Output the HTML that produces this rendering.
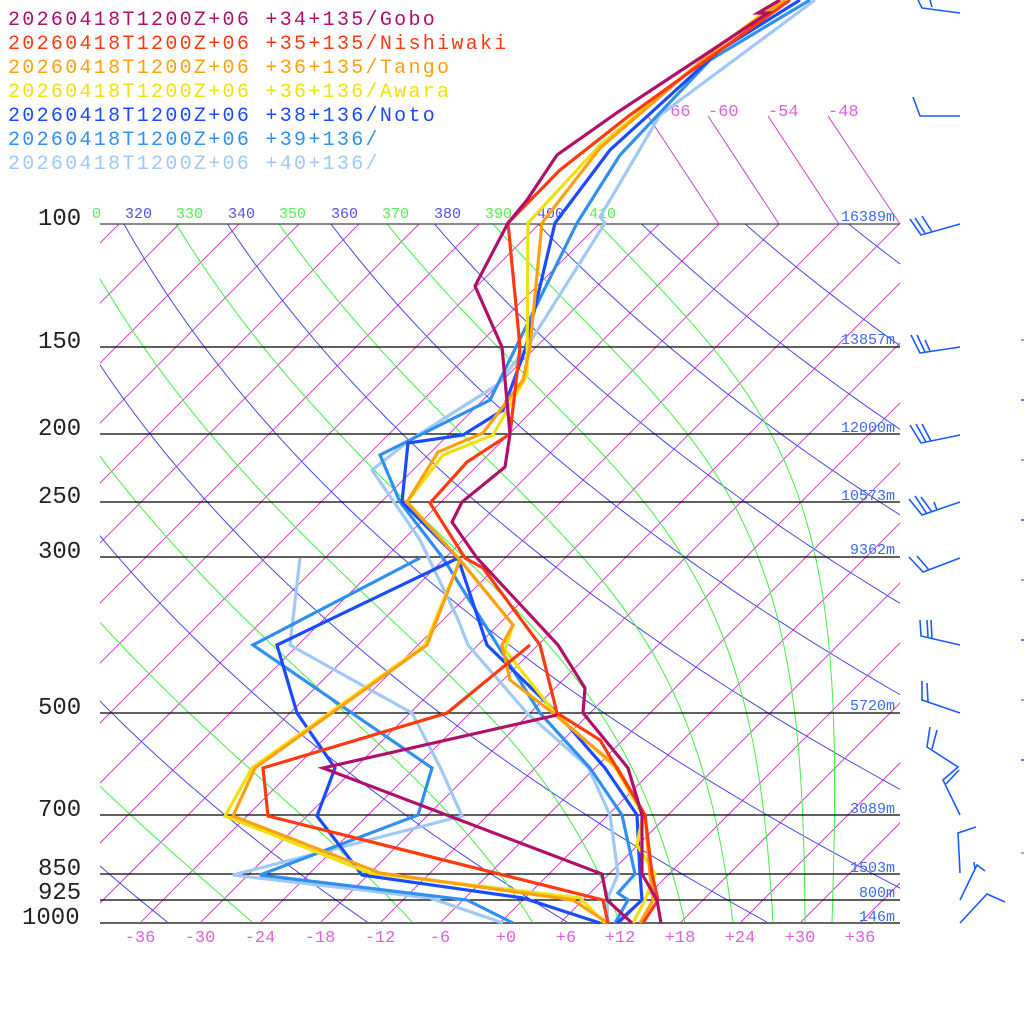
<!DOCTYPE html>
<html><head><meta charset="utf-8"><style>
html,body{margin:0;padding:0;background:#fff;width:1024px;height:1024px;overflow:hidden}
svg{display:block}
text{font-family:"Liberation Mono","DejaVu Sans Mono",monospace}
</style></head><body>
<svg id="s" width="1024" height="1024" viewBox="0 0 1024 1024" xmlns="http://www.w3.org/2000/svg">
<defs><clipPath id="c"><rect x="100" y="224" width="800" height="699"/></clipPath></defs>
<g id="bg" clip-path="url(#c)"></g>
<g id="top" stroke="#d040d0" stroke-width="1">
<line x1="719" y1="224" x2="648" y2="116"/><line x1="779" y1="224" x2="708" y2="116"/>
<line x1="839" y1="224" x2="768" y2="116"/><line x1="900" y1="224" x2="828" y2="116"/>
</g>
<g font-size="17" fill="#e060e0">
<text x="660" y="116">-66</text><text x="708" y="116">-60</text><text x="768" y="116">-54</text><text x="828" y="116">-48</text>
</g>
<g font-size="15">
<text x="92" y="218" fill="#50f050">0</text>
<text x="125" y="218" fill="#5050f0">320</text><text x="176" y="218" fill="#50f050">330</text>
<text x="228" y="218" fill="#5050f0">340</text><text x="279" y="218" fill="#50f050">350</text>
<text x="331" y="218" fill="#5050f0">360</text><text x="382" y="218" fill="#50f050">370</text>
<text x="434" y="218" fill="#5050f0">380</text><text x="485" y="218" fill="#50f050">390</text>
<text x="537" y="218" fill="#5050f0">400</text><text x="589" y="218" fill="#50f050">410</text>
</g>
<g id="plines" stroke="#000" stroke-width="1.3"></g>
<g id="data" fill="none" stroke-width="3.2" stroke-linejoin="miter"></g>
<g id="barbs" fill="none" stroke="#1a5cff" stroke-width="1.6"></g>
<g font-size="24" fill="#222">
<text x="38" y="225">100</text><text x="38" y="348">150</text><text x="38" y="435">200</text>
<text x="38" y="503">250</text><text x="38" y="558">300</text><text x="38" y="714">500</text>
<text x="38" y="816">700</text><text x="38" y="875">850</text><text x="38" y="899">925</text>
<text x="22" y="924">1000</text>
</g>
<g font-size="15" fill="#3a6cf0" text-anchor="end">
<text x="895" y="221">16389m</text><text x="895" y="344">13857m</text><text x="895" y="432">12000m</text>
<text x="895" y="500">10573m</text><text x="895" y="554">9362m</text><text x="895" y="710">5720m</text>
<text x="895" y="813">3089m</text><text x="895" y="872">1503m</text><text x="895" y="897">800m</text>
<text x="895" y="921">146m</text>
</g>
<g font-size="17" fill="#e060e0" text-anchor="middle">
<text x="140" y="942">-36</text><text x="200" y="942">-30</text><text x="260" y="942">-24</text>
<text x="320" y="942">-18</text><text x="380" y="942">-12</text><text x="440" y="942">-6</text>
<text x="506" y="942">+0</text><text x="566" y="942">+6</text><text x="620" y="942">+12</text>
<text x="680" y="942">+18</text><text x="740" y="942">+24</text><text x="800" y="942">+30</text>
<text x="860" y="942">+36</text>
</g>
<g font-size="20" style="letter-spacing:2.3px">
<text x="8" y="25" fill="#b0106a">20260418T1200Z+06 +34+135/Gobo</text>
<text x="8" y="49" fill="#ff3a10">20260418T1200Z+06 +35+135/Nishiwaki</text>
<text x="8" y="73" fill="#ffa010">20260418T1200Z+06 +36+135/Tango</text>
<text x="8" y="97" fill="#f0e010">20260418T1200Z+06 +36+136/Awara</text>
<text x="8" y="121" fill="#1a4cff">20260418T1200Z+06 +38+136/Noto</text>
<text x="8" y="145" fill="#3090f0">20260418T1200Z+06 +39+136/</text>
<text x="8" y="169" fill="#a0c8f8">20260418T1200Z+06 +40+136/</text>
</g>
</svg>
<script>
(function(){
var NS="http://www.w3.org/2000/svg";
function el(parent,tag,attrs){var e=document.createElementNS(NS,tag);for(var k in attrs)e.setAttribute(k,attrs[k]);parent.appendChild(e);return e;}
function yOf(p){return 923-303.6*Math.log(1000/p);}
function xOf(T,p){return 500+10*T+1.0*(923-yOf(p));}
var bg=document.getElementById('bg');
for(var T=-120;T<=40;T+=6){
  el(bg,'line',{x1:xOf(T,1000),y1:923,x2:xOf(T,100),y2:224,stroke:'#d040d0','stroke-width':1});
}
for(var th=200;th<=520;th+=20){
  var d='';
  for(var i=0;i<=60;i++){var p=1000*Math.pow(0.1,i/60);var Tc=th*Math.pow(p/1000,0.286)-273.15;d+=(i?'L':'M')+xOf(Tc,p).toFixed(1)+' '+yOf(p).toFixed(1);}
  el(bg,'path',{d:d,fill:'none',stroke:'#4848f0','stroke-width':1});
}
function es(Tc){return 6.112*Math.exp(17.67*Tc/(Tc+243.5));}
var starts=[-24.7,-8.7,3.3,12,18.5,23.3,27.3,30.5,33.2];
starts.forEach(function(t0){
  var T=t0+273.15,lp=Math.log(1000),lpEnd=Math.log(100),n=300,dl=(lpEnd-lp)/n,d='';
  for(var i=0;i<=n;i++){
    var p=Math.exp(lp);
    d+=(i?'L':'M')+xOf(T-273.15,p).toFixed(1)+' '+yOf(p).toFixed(1);
    var e=es(T-273.15);var rs=0.622*e/(p-e);
    var num=287*T+2.5e6*rs, den=1004+2.5e6*2.5e6*rs*0.622/(287*T*T);
    T+=num/den*dl; lp+=dl;
  }
  el(bg,'path',{d:d,fill:'none',stroke:'#40f040','stroke-width':1});
});
var pl=document.getElementById('plines');
[224,347,434,502,557,713,815,874,900].forEach(function(y){el(pl,'line',{x1:100,y1:y,x2:900,y2:y,stroke:y==224?'#444':'#000'});});
el(pl,'line',{x1:100,y1:923,x2:900,y2:923,stroke:'#666','stroke-width':2});
var S=[
 ['#b0106a',[[661,923],[657,900],[642,874],[642,815],[628,768],[583,713],[585,688],[558,645],[477,558],[452,522],[462,502],[505,467],[510,434],[502,347],[475,286],[508,223],[527,200],[557,155],[618,112],[700,58],[768,13],[758,13],[780,0]],
   [[632,923],[607,900],[602,874],[323,768],[557,715]]],
 ['#ff3a10',[[643,923],[658,900],[652,874],[645,815],[600,740],[557,713],[540,645],[483,568],[465,558],[430,503],[467,462],[510,434],[520,347],[508,223],[560,170],[630,115],[790,0]],
   [[608,923],[603,900],[268,816],[263,768],[447,713],[530,645]]],
 ['#ffa010',[[640,923],[653,900],[650,874],[645,815],[617,767],[553,713],[510,680],[502,645],[513,625],[460,560],[407,502],[438,452],[483,433],[523,380],[530,347],[542,223],[600,148],[720,45],[785,0]],
   [[608,923],[573,900],[380,873],[233,816],[255,768],[427,645],[460,560]]],
 ['#f0e010',[[633,923],[645,900],[655,874],[637,845],[643,815],[615,767],[555,713],[505,650],[513,625],[460,560],[407,502],[443,455],[493,435],[527,375],[528,223],[600,145],[715,50],[780,0]],
   [[605,923],[580,898],[370,873],[225,816],[252,768],[425,645],[460,560]]],
 ['#1a4cff',[[617,923],[642,900],[640,874],[637,815],[605,768],[557,713],[487,645],[458,558],[402,502],[408,443],[463,435],[503,410],[525,350],[555,223],[610,150],[720,50],[800,0]],
   [[600,923],[523,898],[362,875],[317,816],[335,768],[297,713],[277,645],[458,558]]],
 ['#3090f0',[[615,923],[628,900],[618,893],[635,874],[622,815],[590,768],[540,713],[443,558],[400,502],[380,455],[490,400],[577,223],[620,155],[710,60],[810,0]],
   [[513,923],[467,900],[260,875],[418,815],[432,768],[253,645],[420,558]]],
 ['#a0c8f8',[[608,923],[607,900],[618,874],[610,815],[588,767],[527,713],[468,645],[457,617],[420,540],[372,470],[410,440],[497,385],[527,347],[605,223],[600,217],[660,115],[815,0]],
   [[503,923],[430,898],[233,875],[462,816],[440,767],[412,713],[290,645],[300,558]]]
];
var dg=document.getElementById('data');
S.slice().reverse().forEach(function(s){
  [s[1],s[2]].forEach(function(pts){
    el(dg,'polyline',{points:pts.map(function(q){return q.join(',');}).join(' '),stroke:s[0]});
  });
});
var B=[[[960,13],[922,8],[918,0]],[[932,7],[930,0]],
 [[960,116],[920,116],[913,97]],
 [[960,224],[921,235],[910,219]],[[925,233],[915,218]],[[932,232],[922,216]],
 [[960,347],[920,353],[911,335]],[[925,352],[917,335]],[[930,351],[925,340]],
 [[960,435],[921,443],[910,425]],[[926,442],[916,424]],[[931,441],[922,424]],
 [[960,502],[922,515],[909,499]],[[927,514],[915,496]],[[932,512],[921,497]],[[937,510],[934,502]],
 [[960,558],[923,572],[909,557]],[[929,570],[917,556]],
 [[960,645],[921,636],[920,620]],[[928,637],[927,620]],[[932,638],[931,620]],
 [[960,713],[922,700],[922,681]],[[928,702],[927,683]],
 [[960,815],[943,780],[958,767],[927,747],[930,727]],[[946,784],[959,770]],[[932,749],[937,730]],
 [[960,873],[958,833],[976,827]],
 [[960,900],[977,865],[985,871]],[[975,869],[974,862]],
 [[960,923],[987,894],[1005,902]]];
var bgp=document.getElementById('barbs');
B.forEach(function(pts){el(bgp,'polyline',{points:pts.map(function(q){return q.join(',');}).join(' ')});});
[340,400,460,520,580,640,700,760,853].forEach(function(y,i){el(bgp,'line',{x1:1021,y1:y,x2:1024,y2:y,stroke:i%2?'#5050f0':'#e060e0'});});
})();
</script>
</body></html>
